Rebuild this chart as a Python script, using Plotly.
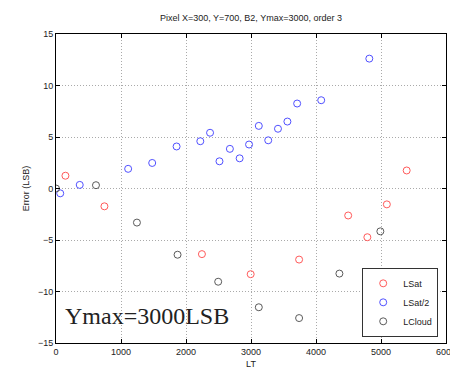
import plotly.graph_objects as go

lsat_x = [145, 745, 2245, 2995, 3740, 4495, 4790, 5090, 5395]
lsat_y = [1.24, -1.73, -6.37, -8.32, -6.90, -2.62, -4.73, -1.54, 1.75]

lsat2_x = [65, 365, 1110, 1480, 1855, 2220, 2370, 2515, 2675, 2825, 2970, 3120, 3265, 3415, 3560, 3710, 4080, 4820]
lsat2_y = [-0.47, 0.35, 1.91, 2.48, 4.08, 4.59, 5.41, 2.64, 3.85, 2.93, 4.27, 6.08, 4.68, 5.80, 6.50, 8.25, 8.57, 12.61]

lcloud_x = [0, 615, 1245, 1870, 2495, 3120, 3740, 4360, 4990]
lcloud_y = [0.0, 0.32, -3.31, -6.43, -9.05, -11.53, -12.58, -8.26, -4.16]

series = [
    ("LSat", lsat_x, lsat_y, "rgb(255,90,90)"),
    ("LSat/2", lsat2_x, lsat2_y, "rgb(80,80,255)"),
    ("LCloud", lcloud_x, lcloud_y, "rgb(90,90,90)"),
]

fig = go.Figure()
for name, xs, ys, col in series:
    fig.add_trace(go.Scatter(
        x=xs, y=ys, mode="markers", name=name,
        marker=dict(symbol="circle-open", size=7, color=col, line=dict(width=1, color=col)),
    ))

font = dict(family="Liberation Sans, Arial, sans-serif", size=9, color="#222")

axis_common = dict(
    showgrid=True, gridcolor="#aaaaaa", griddash="1px,2px", gridwidth=1,
    zeroline=False, showline=True, linecolor="black", linewidth=1, mirror="ticks",
    ticks="inside", ticklen=4, tickcolor="black", tickfont=font,
)

fig.update_layout(
    width=458, height=369,
    margin=dict(l=48, r=10, t=26, b=29),
    paper_bgcolor="white", plot_bgcolor="white",
    title=dict(text="Pixel X=300, Y=700, B2, Ymax=3000, order 3", xref="paper", x=0.5, xanchor="center",
               yref="container", y=0.973, yanchor="middle",
               font=dict(family="Liberation Sans, Arial, sans-serif", size=9, color="#222")),
    xaxis=dict(range=[0, 6000], tickvals=[0, 1000, 2000, 3000, 4000, 5000, 6000],
               title=dict(text="LT", font=font, standoff=4), **axis_common),
    yaxis=dict(range=[-15, 15], tickvals=[-15, -10, -5, 0, 5, 10, 15],
               title=dict(text="Error (LSB)", font=font, standoff=6), **axis_common),
    legend=dict(x=0.98, y=0.02, xanchor="right", yanchor="bottom",
                bgcolor="white", bordercolor="#333", borderwidth=1,
                font=dict(family="Liberation Sans, Arial, sans-serif", size=9, color="#222"),
                tracegroupgap=0),
    showlegend=True,
    annotations=[dict(text="Ymax=3000LSB", xref="paper", yref="paper", x=0.0175, y=0.087,
                      xanchor="left", yanchor="middle", showarrow=False,
                      font=dict(family="Liberation Serif, Times New Roman, serif", size=24, color="#222"))],
)

fig.write_html("out.html")
